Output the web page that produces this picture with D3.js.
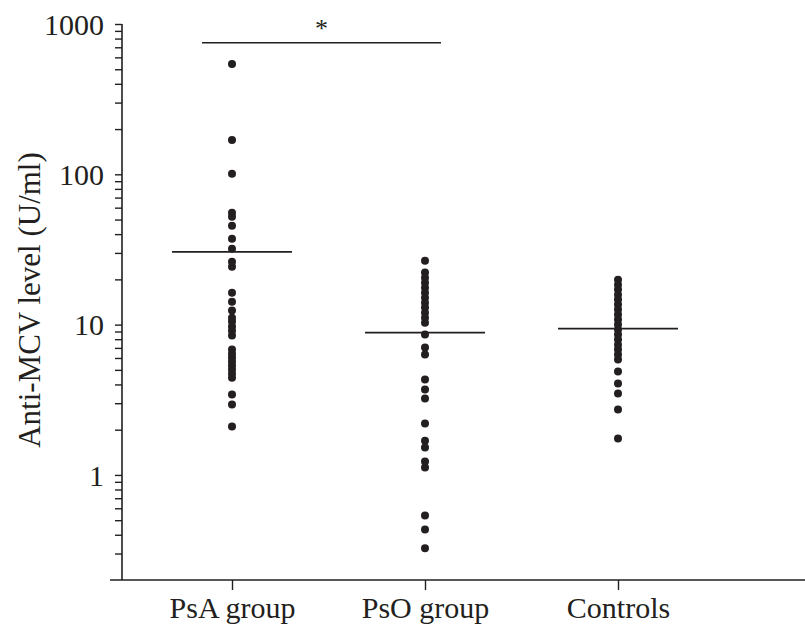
<!DOCTYPE html>
<html>
<head>
<meta charset="utf-8">
<script src="https://cdn.jsdelivr.net/npm/d3@7"></script>
<style>
  html, body { margin: 0; padding: 0; background: #fff; }
  svg { display: block; }
  text { font-family: "Liberation Serif", "DejaVu Serif", serif; fill: #231f20; }
</style>
</head>
<body>
<svg id="chart" width="805" height="626"></svg>
<script>
// ---- Data ----
const categories = ["PsA group", "PsO group", "Controls"];

const psaValues = [542, 169, 100.7, 55.5, 52.2, 45.5, 37.3, 32, 26.2, 24.3,
  16.3, 14.2, 12.4, 11.1, 10.5, 9.7, 9.1, 8.45, 6.82, 6.41, 6.04, 5.68,
  5.34, 5.02, 4.72, 4.44, 3.43, 2.94, 2.10];

const psoValues = [26.6, 22.2, 20.5, 19.0, 17.6, 16.3, 15.1, 14.0, 13.0, 12.0,
  11.1, 10.3, 8.58, 7.04, 6.32, 4.31, 3.70, 3.22, 2.20, 1.69, 1.52, 1.23,
  1.12, 0.538, 0.434, 0.325];

const controlValues = [19.9, 18.4, 17.1, 15.8, 14.7, 13.6, 12.6, 11.7, 10.8,
  10.0, 9.27, 8.58, 7.95, 7.36, 6.82, 6.32, 5.85, 4.88, 4.06, 3.48, 2.72, 1.75];

const groupMeans = [30.5, 8.85, 9.4];

const yTickLabels = [1, 10, 100, 1000];
const yDomain = [0.2, 1000];

const significance = { from: "PsA group", to: "PsO group", label: "*", value: 750 };

// ---- Chart ----
const svg = d3.select("#chart");
const ink = "#231f20";

const y = d3.scaleLog().domain(yDomain).range([580, 24]);
const x = d3.scalePoint().domain(categories).range([232, 618]);

// minor + major ticks
const allTicks = [];
for (let e = -1; e <= 2; e++) {
  for (let m = 1; m <= 9; m++) {
    const v = m * Math.pow(10, e);
    if (v >= 0.3 && v <= 1000) allTicks.push(v);
  }
}
allTicks.push(1000);

const yAxis = d3.axisLeft(y)
  .tickValues(allTicks)
  .tickSize(7)
  .tickFormat(d => yTickLabels.includes(d) ? String(d) : "");

const gy = svg.append("g")
  .attr("transform", "translate(122,0)")
  .call(yAxis);
gy.select(".domain").remove();
gy.selectAll(".tick line").attr("stroke", ink).attr("stroke-width", 1.4);
gy.selectAll(".tick text")
  .attr("x", -18)
  .attr("dy", "0.34em")
  .style("font-size", "30px")
  .style("fill", ink);

// y axis line
svg.append("line")
  .attr("x1", 122).attr("x2", 122)
  .attr("y1", y(1000)).attr("y2", y(yDomain[0]))
  .attr("stroke", ink).attr("stroke-width", 1.6);

// x axis
const xAxis = d3.axisBottom(x).tickSize(10).tickSizeOuter(0);
const gx = svg.append("g")
  .attr("transform", "translate(0,580)")
  .call(xAxis);
gx.select(".domain").remove();
gx.selectAll(".tick line").attr("stroke", ink).attr("stroke-width", 1.4);
gx.selectAll(".tick text")
  .attr("y", 17)
  .attr("dy", "0.71em")
  .style("font-size", "30px")
  .style("fill", ink);

svg.append("line")
  .attr("x1", 110).attr("x2", 805)
  .attr("y1", 580).attr("y2", 580)
  .attr("stroke", ink).attr("stroke-width", 1.6);

// y axis title
svg.append("text")
  .attr("transform", "translate(40,300) rotate(-90)")
  .attr("text-anchor", "middle")
  .style("font-size", "31px")
  .text("Anti-MCV level (U/ml)");

// dots
const groups = [psaValues, psoValues, controlValues];
groups.forEach((vals, i) => {
  svg.append("g").selectAll("circle")
    .data(vals)
    .join("circle")
    .attr("cx", x(categories[i]))
    .attr("cy", d => y(d))
    .attr("r", 4)
    .attr("fill", ink);
});

// mean lines
svg.append("g").selectAll("line")
  .data(groupMeans)
  .join("line")
  .attr("x1", (d, i) => x(categories[i]) - 60)
  .attr("x2", (d, i) => x(categories[i]) + 60)
  .attr("y1", d => y(d))
  .attr("y2", d => y(d))
  .attr("stroke", ink)
  .attr("stroke-width", 1.6);

// significance bracket
const sx1 = x(significance.from) - 30;
const sx2 = x(significance.to) + 16;
svg.append("line")
  .attr("x1", sx1).attr("x2", sx2)
  .attr("y1", y(significance.value)).attr("y2", y(significance.value))
  .attr("stroke", ink).attr("stroke-width", 1.6);
svg.append("text")
  .attr("x", (sx1 + sx2) / 2)
  .attr("y", y(significance.value) - 6)
  .attr("text-anchor", "middle")
  .style("font-size", "26px")
  .text(significance.label);
</script>
</body>
</html>
